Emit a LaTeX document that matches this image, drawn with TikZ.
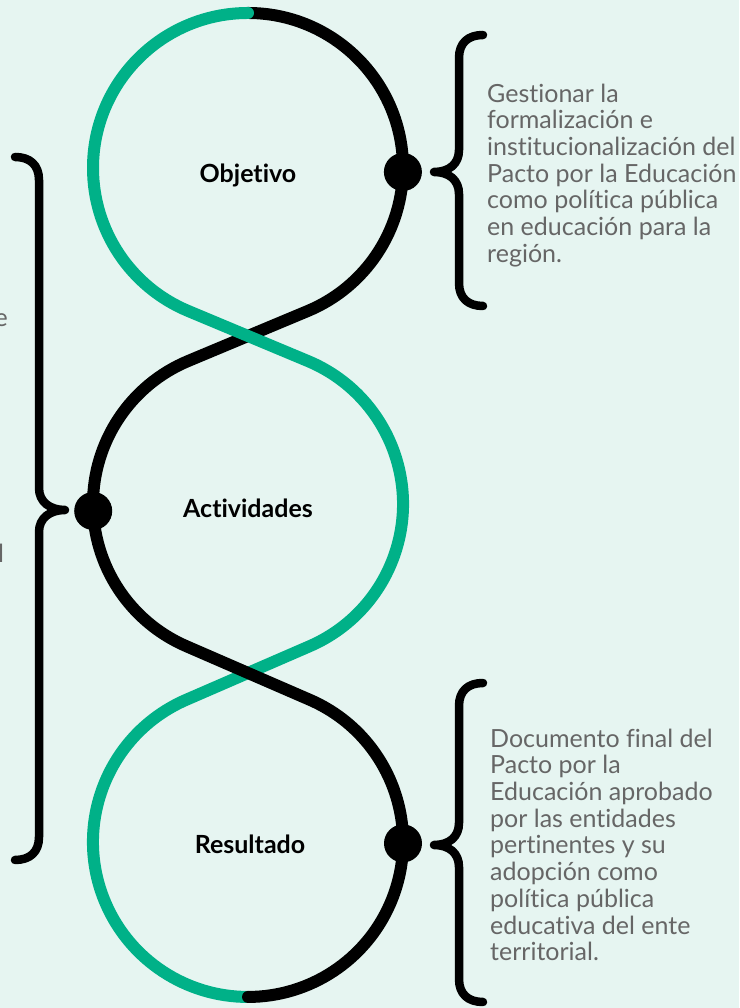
\documentclass[tikz,border=0pt]{standalone}
\usepackage{fontspec}
\setmainfont{Lato}[Ligatures={NoCommon}]
\definecolor{bg}{HTML}{E6F5F1}
\definecolor{vgreen}{HTML}{00B188}
\definecolor{txt}{HTML}{666666}
\begin{document}
\begin{tikzpicture}[x=1pt,y=1pt,
  loop/.style={line width=12pt, line cap=round},
  greenloop/.style={loop, draw=vgreen},
  blackloop/.style={loop, draw=black},
  dot/.style={circle, fill=black, minimum size=38pt, inner sep=0pt},
  brace/.style={draw=black, line width=8.5pt, line cap=round, line join=round},
  lbl/.style={font=\fontsize{25}{28}\selectfont\bfseries, text=black, inner sep=0pt},
  desc/.style={font=\fontsize{25}{26.7}\selectfont, text=txt, align=left, anchor=north west, inner sep=0pt},
  frag/.style={font=\fontsize{25}{26.7}\selectfont, text=txt, inner sep=0pt}
]
\fill[bg] (0,0) rectangle (739,1008);
\useasboundingbox (0,0) rectangle (739,1008);

% upper black half
\draw[blackloop] (248,995) arc[start angle=90, end angle=-67.31, radius=155]
  -- (188.2,647) arc[start angle=112.69, end angle=180, radius=155];
% green strand
\draw[greenloop] (248,995) arc[start angle=90, end angle=247.31, radius=155]
  -- (307.8,647) arc[start angle=67.31, end angle=-66.51, radius=155]
  -- (186.2,308.2) arc[start angle=113.49, end angle=270, radius=155];
% lower black half
\draw[blackloop] (93,504) arc[start angle=180, end angle=246.51, radius=155]
  -- (309.8,308.2) arc[start angle=66.51, end angle=-90, radius=155];

\node[dot] (d1) at (402.9,836) {};
\node[dot] (d2) at (93.2,497) {};
\node[dot] (d3) at (403,164.6) {};

\node[lbl] (obj) at (248,833) {Objetivo};
\node[lbl] (act) at (248,500) {Actividades};
\node[lbl] (res) at (250,164) {Resultado};

% braces
\draw[brace] (483,973) .. controls (468,973) and (459,965) .. (459,950) -- (459,858)
  .. controls (459,844) and (449,836) .. (434,836)
  .. controls (449,836) and (459,828) .. (459,814) -- (459,725)
  .. controls (459,710) and (468,702) .. (483,702);
\draw[brace] (15,851) .. controls (30,851) and (39,843) .. (39,828) -- (39,520)
  .. controls (39,506) and (50,498) .. (65,498)
  .. controls (50,498) and (39,490) .. (39,476) -- (39,171)
  .. controls (39,156) and (30,148) .. (15,148);
\draw[brace] (483,325) .. controls (468,325) and (459,317) .. (459,302) -- (459,185)
  .. controls (459,171) and (449,163) .. (434,163)
  .. controls (449,163) and (459,155) .. (459,141) -- (459,29)
  .. controls (459,14) and (468,6) .. (483,6);

\node[desc] (tobj) at (487,924.5) {Gestionar la\\formalización e\\institucionalización del\\Pacto por la Educación\\como política pública\\en educación para la\\región.};
\node[desc] (tres) at (490,279.5) {Documento final del\\Pacto por la\\Educación aprobado\\por las entidades\\pertinentes y su\\adopción como\\política pública\\educativa del ente\\territorial.};

\node[frag, anchor=base east] (f1) at (8,681) {e};
\node[frag, anchor=base west] (f2) at (-2,445) {l};
\end{tikzpicture}
\end{document}
